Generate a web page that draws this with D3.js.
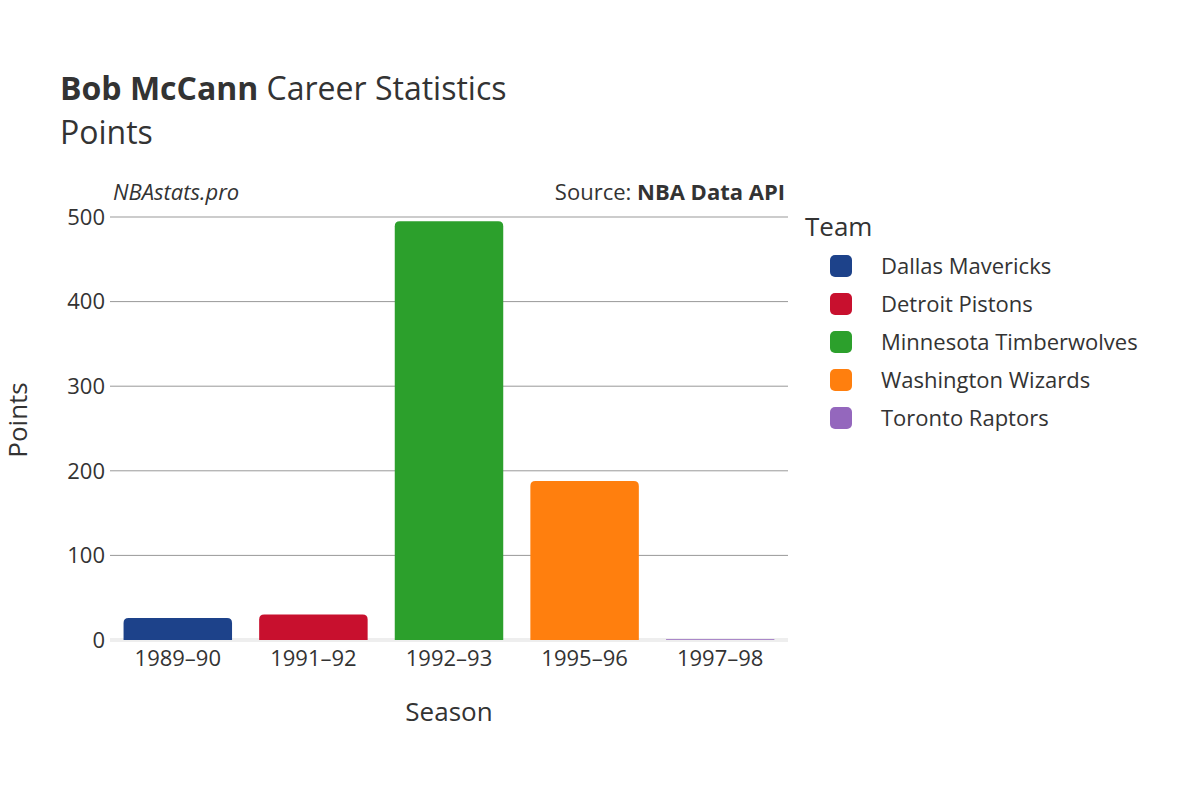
<!DOCTYPE html><html><head><meta charset="utf-8"><script src="https://cdn.jsdelivr.net/npm/d3@7"></script>
<style>body{margin:0;background:#fff}text{font-family:"Open Sans","Noto Sans",sans-serif;fill:#333}</style></head><body><svg id="c" width="1200" height="800"></svg><script>
const seasons=["1989–90","1991–92","1992–93","1995–96","1997–98"];
const teams=["Dallas Mavericks","Detroit Pistons","Minnesota Timberwolves","Washington Wizards","Toronto Raptors"];
const points=[26,30,495,188,1];
const colors=["#1d428a","#c8102e","#2ca02c","#ff7f0e","#9467bd"];
const yTicks=[0,100,200,300,400,500];
const svg=d3.select("#c");
const L=110,R=788,T=217,B=640;
const x=d3.scaleBand().domain(seasons).range([L,R]).paddingInner(0.2).paddingOuter(0.1);
const y=d3.scaleLinear().domain([0,500]).range([B,T]);
svg.selectAll(".g").data(yTicks.slice(1)).join("line").attr("x1",L).attr("x2",R).attr("y1",d=>y(d)).attr("y2",d=>y(d)).attr("stroke","#999").attr("stroke-width",1);
svg.append("rect").attr("x",L).attr("y",B-2).attr("width",R-L).attr("height",4).attr("fill","#eee");
svg.selectAll(".yt").data(yTicks).join("text").attr("x",L-5).attr("y",d=>y(d)).attr("dy","0.35em").attr("text-anchor","end").attr("font-size",22).text(d=>d);
svg.selectAll(".b").data(seasons).join("path").attr("fill",(d,i)=>colors[i]).attr("d",(d,i)=>{
 const x0=x(d),w=x.bandwidth(),y0=y(points[i]),r=Math.min(5,(B-y0)/2);
 return `M${x0},${B}V${y0+r}Q${x0},${y0} ${x0+r},${y0}H${x0+w-r}Q${x0+w},${y0} ${x0+w},${y0+r}V${B}Z`;});
svg.selectAll(".xt").data(seasons).join("text").attr("x",d=>x(d)+x.bandwidth()/2).attr("y",666).attr("text-anchor","middle").attr("font-size",22).text(d=>d);
svg.append("text").attr("x",449).attr("y",721).attr("text-anchor","middle").attr("font-size",26).text("Season");
svg.append("text").attr("transform","translate(27,420) rotate(-90)").attr("text-anchor","middle").attr("font-size",26).text("Points");
const t=svg.append("text").attr("x",60).attr("y",100).attr("font-size",32);
t.append("tspan").attr("font-weight","bold").text("Bob McCann");t.append("tspan").text(" Career Statistics");
svg.append("text").attr("x",60).attr("y",144).attr("font-size",32).text("Points");
svg.append("text").attr("x",113).attr("y",200).attr("font-size",22).attr("font-style","italic").text("NBAstats.pro");
const s=svg.append("text").attr("x",785).attr("y",200).attr("font-size",22).attr("text-anchor","end");
s.append("tspan").text("Source: ");s.append("tspan").attr("font-weight","bold").text("NBA Data API");
svg.append("text").attr("x",805).attr("y",236).attr("font-size",26).text("Team");
const lg=svg.selectAll(".lg").data(teams).join("g").attr("transform",(d,i)=>`translate(830,${266+i*38})`);
lg.append("rect").attr("x",0).attr("y",-11).attr("width",22).attr("height",22).attr("rx",5).attr("fill",(d,i)=>colors[i]);
lg.append("text").attr("x",51).attr("dy","0.35em").attr("font-size",22).text(d=>d);
</script></body></html>
